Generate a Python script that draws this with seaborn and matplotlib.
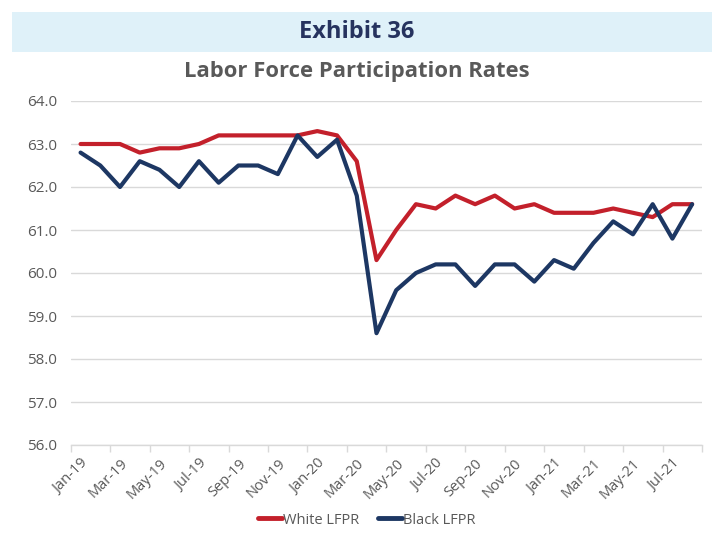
import matplotlib
matplotlib.use("Agg")
import matplotlib.pyplot as plt
from matplotlib.patches import Rectangle
from matplotlib.lines import Line2D
import seaborn as sns
import pandas as pd
import numpy as np

months = ["Jan-19", "Feb-19", "Mar-19", "Apr-19", "May-19", "Jun-19", "Jul-19", "Aug-19",
          "Sep-19", "Oct-19", "Nov-19", "Dec-19",
          "Jan-20", "Feb-20", "Mar-20", "Apr-20", "May-20", "Jun-20", "Jul-20", "Aug-20",
          "Sep-20", "Oct-20", "Nov-20", "Dec-20",
          "Jan-21", "Feb-21", "Mar-21", "Apr-21", "May-21", "Jun-21", "Jul-21", "Aug-21"]

white_lfpr = [63.0, 63.0, 63.0, 62.8, 62.9, 62.9, 63.0, 63.2, 63.2, 63.2, 63.2, 63.2,
              63.3, 63.2, 62.6, 60.3, 61.0, 61.6, 61.5, 61.8, 61.6, 61.8, 61.5, 61.6,
              61.4, 61.4, 61.4, 61.5, 61.4, 61.3, 61.6, 61.6]

black_lfpr = [62.8, 62.5, 62.0, 62.6, 62.4, 62.0, 62.6, 62.1, 62.5, 62.5, 62.3, 63.2,
              62.7, 63.1, 61.8, 58.6, 59.6, 60.0, 60.2, 60.2, 59.7, 60.2, 60.2, 59.8,
              60.3, 60.1, 60.7, 61.2, 60.9, 61.6, 60.8, 61.6]

series_names = ["White LFPR", "Black LFPR"]
series_colors = ["#c3202b", "#1d3763"]

yticks = [56.0, 57.0, 58.0, 59.0, 60.0, 61.0, 62.0, 63.0, 64.0]

sns.set_theme(style="white")
plt.rcParams["font.family"] = ["Open Sans", "DejaVu Sans"]

pos = np.arange(len(months))
df = pd.DataFrame({
    "pos": np.concatenate([pos, pos]),
    "rate": white_lfpr + black_lfpr,
    "series": [series_names[0]] * len(months) + [series_names[1]] * len(months),
})

fig = plt.figure(figsize=(7.14, 5.34), dpi=100)

# header band
fig.patches.append(Rectangle((12 / 714, 1 - 52 / 534), 700 / 714, 40 / 534,
                             transform=fig.transFigure, facecolor="#dff1f9",
                             edgecolor="none", zorder=0))
fig.text(0.5, 1 - 32 / 534, "Exhibit 36", ha="center", va="center",
         fontsize=17, fontweight="bold", color="#26335f")
fig.text(0.5, 1 - 72 / 534, "Labor Force Participation Rates", ha="center",
         va="center", fontsize=15.8, fontweight="bold", color="#595959")

ax = fig.add_axes([70.7 / 714, 1 - 445 / 534, (702 - 70.7) / 714, (445 - 101) / 534])

sns.lineplot(data=df, x="pos", y="rate", hue="series", palette=series_colors,
             hue_order=series_names, linewidth=3.0, ax=ax, legend=False)

ax.set_xlim(-0.5, len(months) - 0.5)
ax.set_ylim(56.0, 64.0)
ax.set_yticks(yticks)
ax.set_yticklabels([f"{v:.1f}" for v in yticks], fontsize=11, color="#595959")
ax.yaxis.grid(True, color="#d9d9d9", linewidth=1.0)
ax.set_axisbelow(True)

# tick marks between categories, labels on every second category
ax.set_xticks(np.arange(-0.5, len(months), 2))
ax.set_xticklabels([])
ax.set_xticks(pos[::2], minor=True)
ax.set_xticklabels(months[::2], minor=True, rotation=45, ha="right",
                   rotation_mode="anchor", fontsize=10.5, color="#595959")
ax.tick_params(axis="x", which="major", length=5, width=1, color="#d9d9d9",
               direction="out", bottom=True)
ax.tick_params(axis="x", which="minor", length=0, pad=8)
ax.tick_params(axis="y", length=0, pad=10)

for side in ["top", "right", "left"]:
    ax.spines[side].set_visible(False)
ax.spines["bottom"].set_color("#d9d9d9")
ax.spines["bottom"].set_linewidth(1.0)
ax.set_xlabel("")
ax.set_ylabel("")

handles = [Line2D([0], [0], color=c, linewidth=3.5) for c in series_colors]
fig.legend(handles, series_names, loc="center", bbox_to_anchor=(367 / 714, 1 - 520 / 534),
           ncol=2, frameon=False, fontsize=10.5, handlelength=1.6, handletextpad=0.1,
           columnspacing=1.3, labelcolor="#595959")

fig.savefig("out.png", dpi=100)
